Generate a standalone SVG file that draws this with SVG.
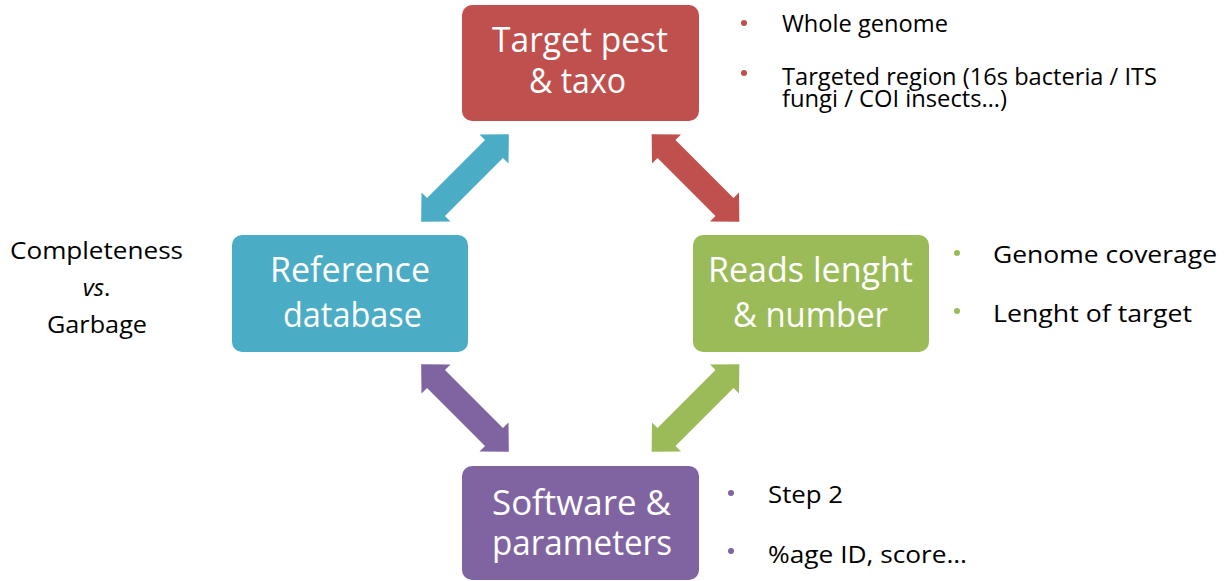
<svg xmlns="http://www.w3.org/2000/svg" xmlns:xlink="http://www.w3.org/1999/xlink" width="1231" height="581" viewBox="0 0 1231 581">
  <style>
    .box-label { font-family: "Open Sans", "Liberation Sans", sans-serif; font-size: 34px; fill: #FFFFFF; text-anchor: middle; }
    .note { font-family: "Open Sans", "Liberation Sans", sans-serif; font-size: 24px; fill: #000000; }
    .side { font-family: "Open Sans", "Liberation Sans", sans-serif; font-size: 24px; fill: #000000; text-anchor: middle; }
    .red { fill: #C0504D; }
    .blue { fill: #4BACC6; }
    .green { fill: #9BBB59; }
    .purple { fill: #8064A2; }
  </style>
  <defs>
    <!-- double-headed block arrow, drawn along the x axis and centred on the origin -->
    <polygon id="dbl-arrow" points="-62,0 -41,-20.5 -41,-12.7 41,-12.7 41,-20.5 62,0 41,20.5 41,12.7 -41,12.7 -41,20.5"/>
  </defs>

  <rect width="1231" height="581" fill="#FFFFFF"/>

  <!-- connectors between the four boxes -->
  <g id="connectors">
    <use xlink:href="#dbl-arrow" class="blue" transform="translate(465,178) rotate(-45)"/>
    <use xlink:href="#dbl-arrow" class="red" transform="translate(695.5,178) rotate(45)"/>
    <use xlink:href="#dbl-arrow" class="purple" transform="translate(465,408) rotate(45)"/>
    <use xlink:href="#dbl-arrow" class="green" transform="translate(695.5,408) rotate(-45)"/>
  </g>

  <g id="node-target">
    <rect x="462" y="5" width="237" height="116" rx="10" class="red"/>
    <text class="box-label" x="580" y="52" textLength="176" lengthAdjust="spacingAndGlyphs">Target pest</text>
    <text class="box-label" x="577.5" y="93" textLength="97" lengthAdjust="spacingAndGlyphs">&amp; taxo</text>
  </g>

  <g id="node-reference">
    <rect x="232" y="235" width="236" height="117" rx="10" class="blue"/>
    <text class="box-label" x="350" y="282" textLength="160" lengthAdjust="spacingAndGlyphs">Reference</text>
    <text class="box-label" x="352.5" y="327" textLength="139" lengthAdjust="spacingAndGlyphs">database</text>
  </g>

  <g id="node-reads">
    <rect x="693" y="235" width="236" height="117" rx="10" class="green"/>
    <text class="box-label" x="810.5" y="282" textLength="205" lengthAdjust="spacingAndGlyphs">Reads lenght</text>
    <text class="box-label" x="810.5" y="327" textLength="155" lengthAdjust="spacingAndGlyphs">&amp; number</text>
  </g>

  <g id="node-software">
    <rect x="462" y="466" width="237" height="114" rx="10" class="purple"/>
    <text class="box-label" x="581.5" y="515" textLength="179" lengthAdjust="spacingAndGlyphs">Software &amp;</text>
    <text class="box-label" x="582" y="555" textLength="180" lengthAdjust="spacingAndGlyphs">parameters</text>
  </g>

  <!-- side notes -->
  <g id="note-reference">
    <text class="side" x="96.5" y="259" textLength="173" lengthAdjust="spacingAndGlyphs">Completeness</text>
    <text class="side" x="96.5" y="296" font-style="italic">vs<tspan font-style="normal">.</tspan></text>
    <text class="side" x="97" y="333" textLength="100" lengthAdjust="spacingAndGlyphs">Garbage</text>
  </g>

  <g id="note-target">
    <circle cx="744" cy="23" r="3" class="red"/>
    <text class="note" x="782" y="32" textLength="166" lengthAdjust="spacingAndGlyphs">Whole genome</text>
    <circle cx="744" cy="73" r="3" class="red"/>
    <text class="note" x="782" y="85" textLength="375" lengthAdjust="spacingAndGlyphs">Targeted region (16s bacteria / ITS</text>
    <text class="note" x="782" y="107" textLength="225" lengthAdjust="spacingAndGlyphs">fungi / COI insects…)</text>
  </g>

  <g id="note-reads">
    <circle cx="957" cy="253" r="3" class="green"/>
    <text class="note" x="993" y="263" textLength="224" lengthAdjust="spacingAndGlyphs">Genome coverage</text>
    <circle cx="957" cy="311" r="3" class="green"/>
    <text class="note" x="993" y="322" textLength="199" lengthAdjust="spacingAndGlyphs">Lenght of target</text>
  </g>

  <g id="note-software">
    <circle cx="731" cy="493" r="3" class="purple"/>
    <text class="note" x="768" y="503" textLength="75" lengthAdjust="spacingAndGlyphs">Step 2</text>
    <circle cx="731" cy="551" r="3" class="purple"/>
    <text class="note" x="768" y="563" textLength="199" lengthAdjust="spacingAndGlyphs">%age ID, score…</text>
  </g>
</svg>
